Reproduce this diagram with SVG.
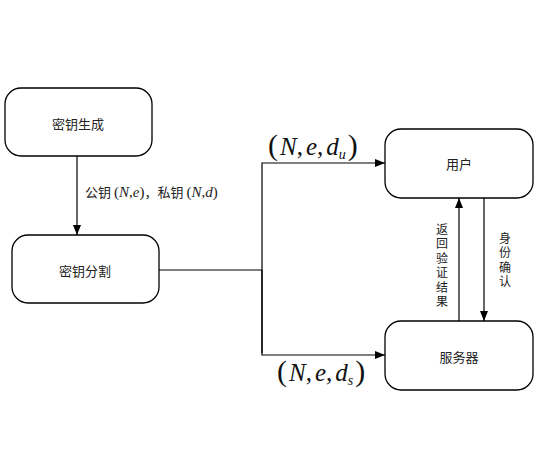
<svg xmlns="http://www.w3.org/2000/svg" width="536" height="458" viewBox="0 0 536 458">
<defs>
<marker id="ah" markerWidth="10" markerHeight="8" refX="10" refY="4" orient="auto" markerUnits="userSpaceOnUse">
<path d="M0,0 L10,4 L0,8 Z" fill="#000"/>
</marker>
<style>
.box{fill:#fff;stroke:#000;stroke-width:1.3}
.t{font-family:"Noto Sans CJK SC","Noto Sans",sans-serif;font-size:13px;fill:#222;text-anchor:middle;dominant-baseline:central}
.v{font-family:"Noto Sans CJK SC","Noto Sans",sans-serif;font-size:12px;fill:#222;writing-mode:vertical-rl;text-orientation:upright;letter-spacing:2.5px}
.ln{fill:none;stroke:#000;stroke-width:1.2}
.m{font-family:"Liberation Serif",serif;font-size:25px;fill:#111}
.p{font-size:30px;font-style:normal}
.s{font-family:"Noto Sans CJK SC","Noto Sans",sans-serif;font-size:13px;fill:#222}
.mi{font-family:"Liberation Serif",serif;font-size:15px;fill:#222}
</style>
</defs>
<rect width="536" height="458" fill="#fff"/>
<g id="keygen"><rect class="box" x="5" y="88" width="147" height="68" rx="16"/><text class="t" x="78" y="123">密钥生成</text></g>
<g id="keysplit"><rect class="box" x="12" y="235" width="147" height="68" rx="16"/><text class="t" x="85" y="270">密钥分割</text></g>
<g id="user"><rect class="box" x="385" y="129" width="148" height="69" rx="16"/><text class="t" x="459" y="163">用户</text></g>
<g id="server"><rect class="box" x="385" y="321" width="148" height="69" rx="16"/><text class="t" x="459" y="356">服务器</text></g>
<g id="connectors">
<line class="ln" x1="77" y1="156" x2="77" y2="235" marker-end="url(#ah)"/>
<polyline class="ln" points="159,270 262,270"/>
<polyline class="ln" points="262,353 262,163 385,163" marker-end="url(#ah)"/>
<polyline class="ln" points="262,270 262,355 385,355" marker-end="url(#ah)"/>
<line class="ln" x1="459" y1="321" x2="459" y2="198" marker-end="url(#ah)"/>
<line class="ln" x1="484" y1="198" x2="484" y2="321" marker-end="url(#ah)"/>
</g>
<g id="labels">
<text x="85" y="197"><tspan class="s">公钥</tspan><tspan class="mi" dx="3">(</tspan><tspan class="mi" font-style="italic">N</tspan><tspan class="mi">,</tspan><tspan class="mi" font-style="italic">e</tspan><tspan class="mi">)</tspan><tspan class="s">，私钥</tspan><tspan class="mi" dx="3">(</tspan><tspan class="mi" font-style="italic">N</tspan><tspan class="mi">,</tspan><tspan class="mi" font-style="italic">d</tspan><tspan class="mi">)</tspan></text>
<text class="m" x="268" y="155"><tspan class="p">(</tspan><tspan font-style="italic" dx="2">N</tspan>,<tspan font-style="italic" dx="3">e</tspan>,<tspan font-style="italic" dx="3">d</tspan><tspan font-style="italic" font-size="14" dy="4">u</tspan><tspan class="p" dy="-4" dx="2">)</tspan></text>
<text class="m" x="277" y="381"><tspan class="p">(</tspan><tspan font-style="italic" dx="2">N</tspan>,<tspan font-style="italic" dx="3">e</tspan>,<tspan font-style="italic" dx="3">d</tspan><tspan font-style="italic" font-size="14" dy="4">s</tspan><tspan class="p" dy="-4" dx="2">)</tspan></text>
<text class="v" x="442" y="223">返回验证结果</text>
<text class="v" x="505" y="232">身份确认</text>
</g>
</svg>
